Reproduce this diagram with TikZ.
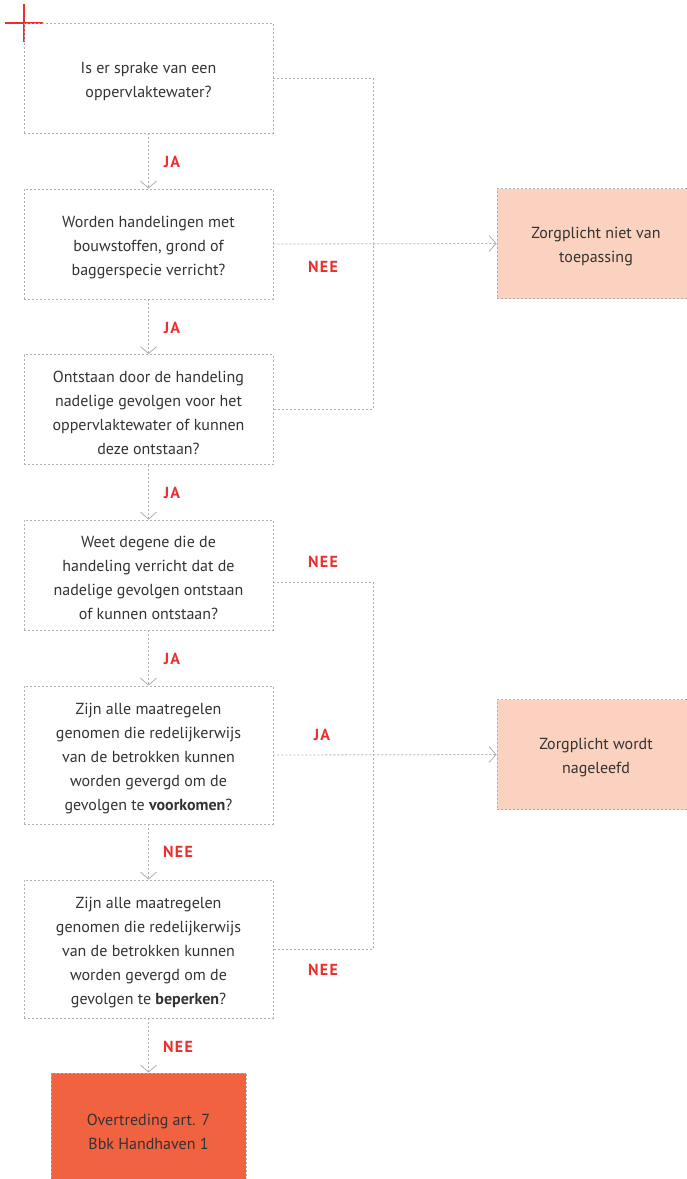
\documentclass[tikz,border=0pt]{standalone}
\usepackage{fontspec}
\setmainfont{PT Sans}
\usetikzlibrary{arrows.meta,calc}
\definecolor{txt}{HTML}{333333}
\definecolor{lbl}{HTML}{E8312F}
\definecolor{peach}{HTML}{FBD2BF}
\definecolor{redbox}{HTML}{F06240}
\definecolor{lin}{HTML}{B0B0B0}
\newcommand{\fl}{\rule{0pt}{17.5pt}}
\tikzset{
  box/.style={draw=lin, line width=0.8pt, dash pattern=on 2pt off 2pt, minimum width=249pt, minimum height=110pt,
    inner sep=0pt, align=center, text=txt, font=\fontsize{16}{24}\selectfont},
  tallbox/.style={box, minimum height=138pt},
  endbox/.style={box, fill=peach, minimum width=198pt},
  badbox/.style={box, fill=redbox, minimum width=195pt, minimum height=112pt},
  conn/.style={draw=lin, line width=0.8pt, dash pattern=on 2pt off 2pt},
  tip/.style={-{Straight Barb[length=7pt,width=16pt,line width=0.8pt]}},
  lab/.style={text=lbl, font=\fontsize{16}{18}\selectfont\bfseries\addfontfeatures{LetterSpace=8}, inner sep=0pt}
}
\begin{document}
\begin{tikzpicture}[x=1pt,y=-1pt]
\useasboundingbox (0,0) rectangle (687,1179);
% red cross
\draw[lbl, line width=2.8pt] (5,23) -- (43,23);
\draw[lbl, line width=2.8pt] (24,4) -- (24,42);

\node[box] (b1) at (148.5,78) {\fl Is er sprake van een\\oppervlaktewater?};
\node[box] (b2) at (148.5,244) {\fl Worden handelingen met\\bouwstoffen, grond of\\baggerspecie verricht?};
\node[box] (b3) at (148.5,409.5) {\fl Ontstaan door de handeling\\nadelige gevolgen voor het\\oppervlaktewater of kunnen\\deze ontstaan?};
\node[box] (b4) at (148.5,575) {\fl Weet degene die de\\handeling verricht dat de\\nadelige gevolgen ontstaan\\of kunnen ontstaan?};
\node[tallbox] (b5) at (148.5,755) {\fl Zijn alle maatregelen\\genomen die redelijkerwijs\\van de betrokken kunnen\\worden gevergd om de\\gevolgen te \textbf{voorkomen}?};
\node[tallbox] (b6) at (148.5,949) {\fl Zijn alle maatregelen\\genomen die redelijkerwijs\\van de betrokken kunnen\\worden gevergd om de\\gevolgen te \textbf{beperken}?};
\node[badbox] (r) at (148.5,1129) {\fl Overtreding art. 7\\Bbk Handhaven 1};
\node[endbox] (p1) at (596,243.5) {\fl Zorgplicht niet van\\toepassing};
\node[endbox] (p2) at (596,754.5) {\fl Zorgplicht wordt\\nageleefd};

% vertical flow
\draw[conn,tip] (b1.south) -- (b2.north);
\draw[conn,tip] (b2.south) -- (b3.north);
\draw[conn,tip] (b3.south) -- (b4.north);
\draw[conn,tip] (b4.south) -- (b5.north);
\draw[conn,tip] (b5.south) -- (b6.north);
\draw[conn,tip] (b6.south) -- (r.north);

% right side group 1
\coordinate (j1) at (373,243.5);
\draw[conn] (b1.east) -| (j1) |- (b3.east);
\draw[conn,tip] (b2.east) -- (p1.west);
% right side group 2
\coordinate (j2) at (373,754.5);
\coordinate (b4r) at ($(b4.east)+(0,7)$);
\draw[conn] (b4r) -| (j2) |- (b6.east);
\draw[conn,tip] (b5.east) -- (p2.west);

% labels
\node[lab] (l1) at (172,162) {JA};
\node[lab] (l2) at (172,328) {JA};
\node[lab] (l3) at (172,493) {JA};
\node[lab] (l4) at (172,659) {JA};
\node[lab] (l5) at (178,852) {NEE};
\node[lab] (l6) at (178,1047) {NEE};
\node[lab] (l7) at (323,267) {NEE};
\node[lab] (l8) at (323,562) {NEE};
\node[lab] (l9) at (322,735) {JA};
\node[lab] (l10) at (323,970) {NEE};
\end{tikzpicture}
\end{document}
